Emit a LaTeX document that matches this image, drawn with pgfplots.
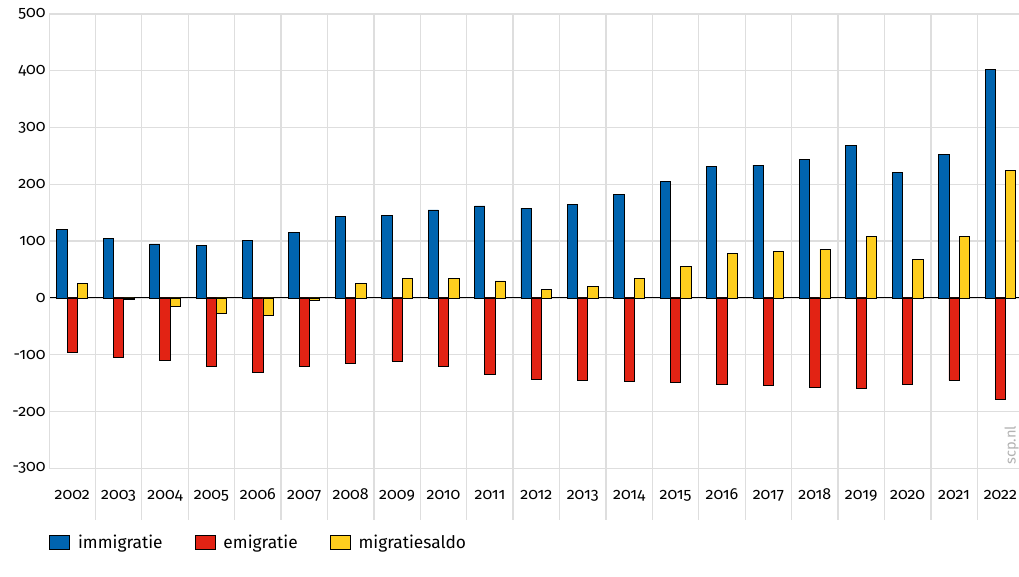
\documentclass[border=0pt]{standalone}
\usepackage{fontspec}
\setmainfont{Fira Sans}[Numbers=OldStyle]
\usepackage{pgfplots}
\pgfplotsset{compat=1.18}
\definecolor{immblue}{RGB}{0,100,175}
\definecolor{emired}{RGB}{226,35,20}
\definecolor{saldoyel}{RGB}{254,206,30}
\definecolor{gridgray}{RGB}{222,222,222}

\begin{document}
\begin{tikzpicture}
\useasboundingbox (-36.75pt,-42.75pt) rectangle (727.5pt,390pt);
\begin{axis}[
    scale only axis, width=727.5pt, height=379.5pt,
    xmin=-0.5, xmax=20.4, ymin=-391, ymax=500,
    ybar=0pt, bar width=7.7pt,
    axis line style={draw=none},
    major tick length=0pt, minor tick length=0pt,
    xtick={0,...,20},
    xticklabels={2002,2003,2004,2005,2006,2007,2008,2009,2010,2011,2012,2013,2014,2015,2016,2017,2018,2019,2020,2021,2022},
    xticklabel style={anchor=base, yshift=15pt},
    minor xtick={0.5,1.5,...,19.5}, xminorgrids,
    ytick={-300,-200,-100,0,100,200,300,400,500},
    yticklabels={-300,-200,-100,0,100,200,300,400,500},
    yticklabel style={xshift=1pt},
    ymajorgrids,
    grid style={gridgray, line width=1pt},
    minor grid style={gridgray, line width=1pt},
    extra y ticks={0}, extra y tick labels={},
    extra y tick style={grid style={black, line width=0.8pt}},
    tick label style={font=\fontsize{12}{14}\selectfont},
    legend columns=3,
    legend style={at={(0,0)}, anchor=north west, yshift=-9pt, draw=none, fill=none,
        inner sep=0pt, font=\fontsize{13}{15}\selectfont,
        /tikz/every odd column/.append style={column sep=4pt},
        /tikz/every even column/.append style={column sep=22pt}},
    legend image code/.code={\draw[#1, line width=0.6pt] (0pt,-5.25pt) rectangle (15pt,5.25pt);},
]
\addplot[fill=immblue, draw=black, line width=0.6pt] coordinates {
(0,121) (1,105) (2,95) (3,93) (4,102) (5,116) (6,143) (7,146) (8,155) (9,162)
(10,158) (11,165) (12,182) (13,205) (14,231) (15,234) (16,244) (17,269) (18,221) (19,252) (20,402)};
\addlegendentry{immigratie}
\addplot[fill=emired, draw=black, line width=0.6pt] coordinates {
(0,-96) (1,-105) (2,-110) (3,-120) (4,-131) (5,-121) (6,-116) (7,-111) (8,-121) (9,-134)
(10,-144) (11,-145) (12,-147) (13,-148) (14,-152) (15,-154) (16,-157) (17,-160) (18,-152) (19,-145) (20,-178)};
\addlegendentry{emigratie}
\addplot[fill=saldoyel, draw=black, line width=0.6pt] coordinates {
(0,25) (1,-2) (2,-15) (3,-27) (4,-30) (5,-5) (6,26) (7,35) (8,34) (9,30)
(10,15) (11,21) (12,35) (13,55) (14,79) (15,82) (16,86) (17,108) (18,68) (19,108) (20,224)};
\addlegendentry{migratiesaldo}
\draw[gridgray, line width=1pt] (axis cs:-0.5,-300) -- (axis cs:-0.5,500);
\end{axis}
\node[rotate=90, text=black!30, font=\fontsize{11}{13}\selectfont] at (722pt,56pt) {scp.nl};
\end{tikzpicture}
\end{document}
